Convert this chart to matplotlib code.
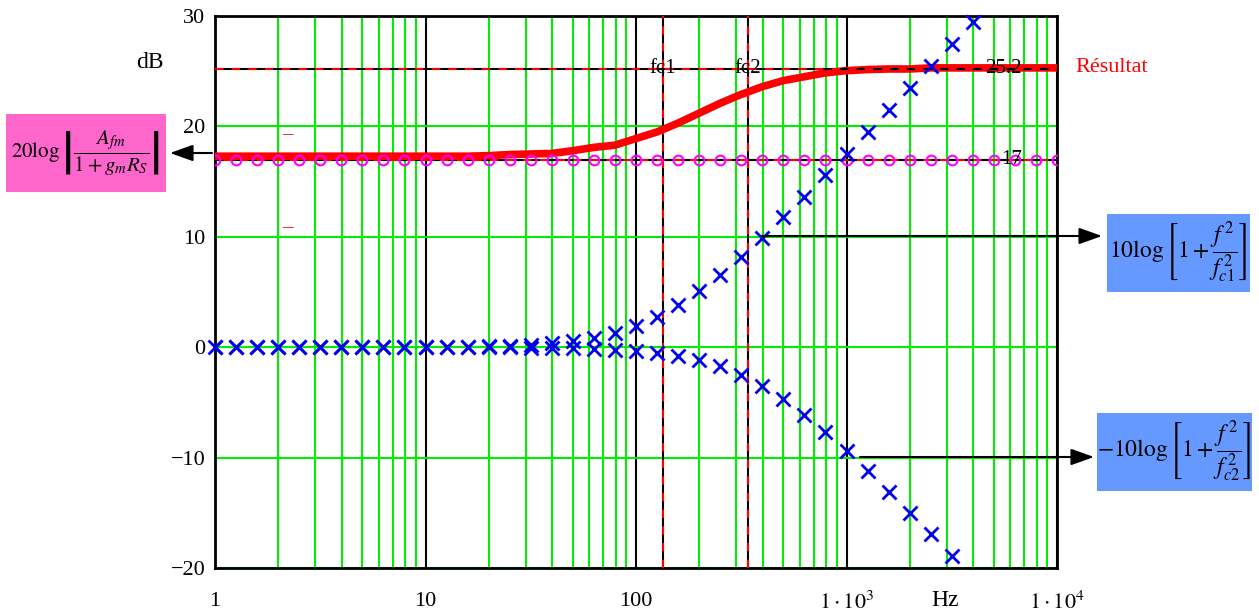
import matplotlib
matplotlib.use("Agg")
import matplotlib.pyplot as plt
from matplotlib.ticker import FixedLocator, FixedFormatter, NullFormatter
from matplotlib.patches import Rectangle, FancyArrowPatch

plt.rcParams['font.family'] = ['Liberation Serif', 'DejaVu Serif']
plt.rcParams['mathtext.fontset'] = 'stix'

# ---------------- data ----------------
freq = [1, 1.259, 1.585, 1.995, 2.512, 3.162, 3.981, 5.012, 6.31, 7.943,
        10, 12.59, 15.85, 19.95, 25.12, 31.62, 39.81, 50.12, 63.1, 79.43,
        100, 125.9, 158.5, 199.5, 251.2, 316.2, 398.1, 501.2, 631, 794.3,
        1000, 1259, 1585, 1995, 2512, 3162, 3981, 5012, 6310, 7943, 10000]

upper_db = [0.0, 0.0, 0.0, 0.0, 0.0, 0.0, 0.0, 0.01, 0.01, 0.02,
            0.02, 0.04, 0.06, 0.1, 0.15, 0.24, 0.37, 0.57, 0.87, 1.31,
            1.92, 2.75, 3.8, 5.07, 6.55, 8.18, 9.93, 11.76, 13.65, 15.58,
            17.53, 19.51, 21.49, 23.48, 25.47, 27.47, 29.46]

# -10 log(1 + f^2/fc2^2)  (lower branch)
lower_db = [0.0, 0.0, 0.0, 0.0, 0.0, 0.0, 0.0, 0.0, 0.0, 0.0,
            0.0, -0.01, -0.01, -0.01, -0.02, -0.03, -0.05, -0.08, -0.13, -0.21,
            -0.32, -0.5, -0.77, -1.16, -1.72, -2.48, -3.47, -4.68, -6.1, -7.69,
            -9.4, -11.21, -13.09, -15.01, -16.96, -18.93]

# constant 20 log|Afm/(1+gm Rs)|
const_db = [17] * 41

# Résultat (thick red curve)
result_db = [17.3, 17.3, 17.3, 17.3, 17.3, 17.3, 17.3, 17.3, 17.3, 17.3,
             17.3, 17.3, 17.3, 17.35, 17.45, 17.5, 17.55, 17.8, 18.1, 18.3,
             18.9, 19.5, 20.3, 21.2, 22.1, 22.9, 23.6, 24.15, 24.5, 24.85,
             25.05, 25.15, 25.2, 25.2, 25.3, 25.3, 25.3, 25.3, 25.3, 25.3, 25.3]

fc1 = 134
fc2 = 340
level_high = 25.2
level_low = 17

x_ticks = [1, 10, 100, 1000, 10000]
x_ticklabels = ['1', '10', '100', r'$1\cdot10^{3}$', r'$1\cdot10^{4}$']
y_ticks = [-20, -10, 0, 10, 20, 30]
y_ticklabels = ['\u221220', '\u221210', '0', '10', '20', '30']

# ---------------- figure ----------------
W, H = 1259, 616
fig = plt.figure(figsize=(W / 100, H / 100), dpi=100)

def fx(px):
    return px / W

def fy(py):
    return 1 - py / H

ax = fig.add_axes([fx(215), fy(568), fx(1057) - fx(215), fy(16) - fy(568)])
ax.set_xscale('log')
ax.set_xlim(1, 10000)
ax.set_ylim(-20, 30)

green = '#00ee00'
ax.xaxis.set_major_locator(FixedLocator(x_ticks))
ax.xaxis.set_major_formatter(FixedFormatter(x_ticklabels))
minor = [m * d for d in [1, 10, 100, 1000] for m in range(2, 10)]
ax.xaxis.set_minor_locator(FixedLocator(minor))
ax.xaxis.set_minor_formatter(NullFormatter())
ax.yaxis.set_major_locator(FixedLocator(y_ticks))
ax.yaxis.set_major_formatter(FixedFormatter(y_ticklabels))
ax.set_axisbelow(True)
ax.grid(True, which='minor', axis='x', color=green, lw=1.5)
ax.grid(True, which='major', axis='x', color='black', lw=1.5)
ax.grid(True, which='major', axis='y', color=green, lw=1.5)
ax.tick_params(axis='both', which='both', length=0, labelsize=16)
ax.tick_params(axis='x', pad=17)
ax.tick_params(axis='y', pad=7)
for s in ax.spines.values():
    s.set_linewidth(2)
    s.set_color('black')

# reference lines (red/black dashed)
for xv in (fc1, fc2):
    ax.axvline(xv, color='black', lw=1.5, zorder=3)
    ax.axvline(xv, color='red', lw=1.5, dashes=(4, 4), zorder=3)
ax.axhline(level_low, color='red', lw=1.5, zorder=3)
ax.axhline(level_low, color='black', lw=1.5, dashes=(4, 4), zorder=3)

# result curve
ax.plot(freq, result_db, color='red', lw=5.5, zorder=4, solid_capstyle='butt')
ax.axhline(level_high, color='black', lw=1.5, zorder=5)
ax.axhline(level_high, color='red', lw=1.5, dashes=(4, 4), zorder=5)

# markers
ax.plot(freq, const_db, ls='none', marker='o', ms=7, mfc='none', mec='#ff00ff',
        mew=1.5, zorder=6)
ax.plot(freq[:len(upper_db)], upper_db, ls='none', marker='x', ms=10, color='#0000ee',
        mew=2, zorder=6, clip_on=False)
ax.plot(freq[:len(lower_db)], lower_db, ls='none', marker='x', ms=10, color='#0000ee',
        mew=2, zorder=6)

# line labels
ax.text(fc1, level_high, 'fc1', ha='center', va='center', fontsize=15, zorder=7)
ax.text(fc2, level_high, 'fc2', ha='center', va='center', fontsize=15, zorder=7)
ax.text(5535, level_high, '25.2', ha='center', va='center', fontsize=15, zorder=7)
ax.text(6110, level_low, '17', ha='center', va='center', fontsize=15, zorder=7)

# axis unit labels
fig.text(fx(150), fy(62), 'dB', ha='center', va='center', fontsize=17)
fig.text(fx(945), fy(600), 'Hz', ha='center', va='center', fontsize=17)
fig.text(fx(1075), fy(67), 'Résultat', ha='left', va='center', fontsize=16, color='red')

# small red dashes
fig.text(fx(287), fy(135), '\u2013', ha='center', va='center', fontsize=15, color='red')
fig.text(fx(287), fy(228), '\u2013', ha='center', va='center', fontsize=15, color='red')

# boxes
def box(x0, y0, x1, y1, color, txt, size):
    fig.patches.append(Rectangle((fx(x0), fy(y1)), fx(x1) - fx(x0), fy(y0) - fy(y1),
                                 transform=fig.transFigure, facecolor=color,
                                 edgecolor='none', zorder=1))
    fig.text(fx((x0 + x1) / 2), fy((y0 + y1) / 2), txt, ha='center', va='center',
             fontsize=size, zorder=2)

box(6, 114, 166, 192, '#ff66cc', r'$20\log\left|\dfrac{A_{fm}}{1+g_mR_S}\right|$', 15)
box(1107, 214, 1250, 292, '#6699ff', r'$10\log\left[1+\dfrac{f^{\,2}}{f_{c1}^{\,2}}\right]$', 17)
box(1097, 413, 1252, 491, '#6699ff', r'$-10\log\left[1+\dfrac{f^{\,2}}{f_{c2}^{\,2}}\right]$', 17)

# arrows
ap = dict(arrowstyle='-|>,head_length=0.7,head_width=0.25', color='black', lw=1.5,
          mutation_scale=20, shrinkA=0, shrinkB=0)
fig.add_artist(FancyArrowPatch((fx(212), fy(153)), (fx(170), fy(153)),
               transform=fig.transFigure, **ap))
fig.add_artist(FancyArrowPatch((fx(762), fy(236)), (fx(1102), fy(236)),
               transform=fig.transFigure, **ap))
fig.add_artist(FancyArrowPatch((fx(860), fy(457)), (fx(1094), fy(457)),
               transform=fig.transFigure, **ap))

fig.savefig('out.png', dpi=100)
